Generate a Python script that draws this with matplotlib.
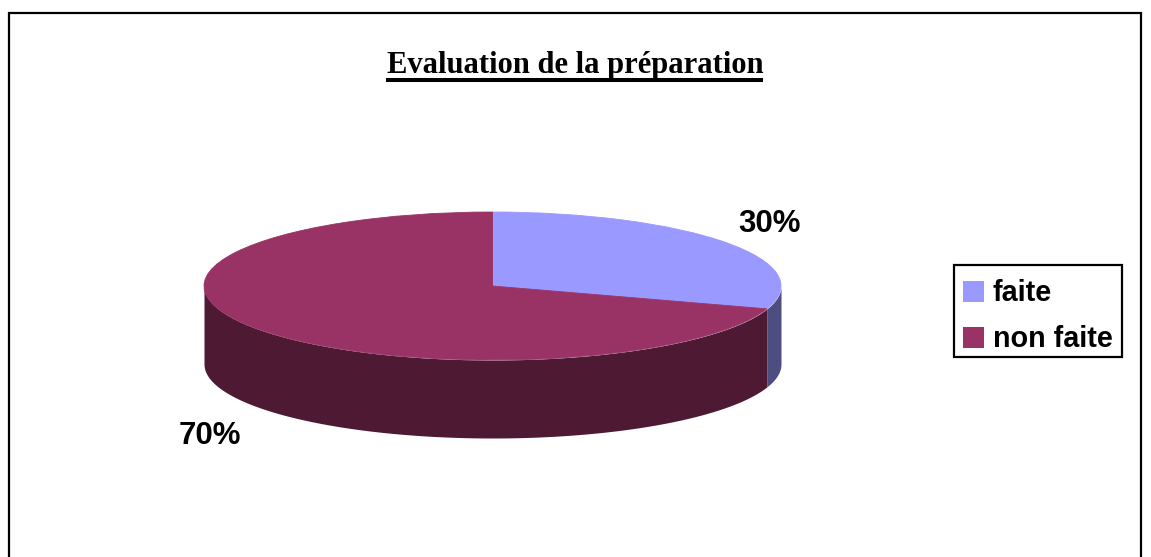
#!/usr/bin/env python

import numpy as np
import matplotlib.pyplot as plt
from matplotlib.patches import Rectangle

labels = ["faite", "non faite"]
values = [30, 70]
pct_labels = ["30%", "70%"]
colors = ["#9999FF", "#993366"]
side_colors = ["#4D4D80", "#4D1933"]

W, H = 1151, 557
fig = plt.figure(figsize=(W / 100, H / 100), dpi=100)

# full figure axes in pixel coordinates for the frame and the texts
bg = fig.add_axes([0, 0, 1, 1])
bg.set_xlim(0, W)
bg.set_ylim(H, 0)
bg.axis("off")

# chart frame, bottom edge is cut off by the image
bg.plot([9, 9, 1141, 1141], [H, 13, 13, H], color="black", lw=1.6, solid_joinstyle="miter")

bg.text(575, 65, "Evaluation de la préparation", family="Liberation Serif", weight="bold",
        fontsize=22, ha="center", va="center", color="black")
bg.plot([386, 763], [79.5, 79.5], color="black", lw=2.9, solid_capstyle="butt")

# pie axes: x -1..1 and y -1..1 squashed to an ellipse
px0, px1, py0, py1 = 204, 781, 212, 360
pie_ax = fig.add_axes([px0 / W, 1 - py1 / H, (px1 - px0) / W, (py1 - py0) / H])
pie_ax.patch.set_visible(False)

depth = 78 / ((py1 - py0) / 2)

# side of the cylinder: only the front half can be seen
start = 90.0
for v, c in zip(values, side_colors):
    end = start - v * 360 / sum(values)
    a0, a1 = max(start, -180), max(end, -180)
    a0, a1 = min(a0, 0), min(a1, 0)
    if a0 > a1:
        t = np.radians(np.linspace(a0, a1, 200))
        pie_ax.fill_between(np.cos(t), np.sin(t), np.sin(t) - depth, color=c, lw=0)
    start = end

wedges, _ = pie_ax.pie(values, colors=colors, startangle=90, counterclock=False, radius=1)
for w, c in zip(wedges, colors):
    w.set_edgecolor(c)
    w.set_linewidth(0.6)
pie_ax.set_aspect("auto")
pie_ax.set_xlim(-1, 1)
pie_ax.set_ylim(-1, 1)
pie_ax.axis("off")
for a in pie_ax.collections + pie_ax.patches:
    a.set_clip_on(False)

# percent labels
label_font = {"family": "Liberation Sans", "weight": "bold", "fontsize": 22.5, "color": "black"}
bg.text(770, 224, pct_labels[0], ha="center", va="center", **label_font)
bg.text(210, 436, pct_labels[1], ha="center", va="center", **label_font)

# legend
bg.add_patch(Rectangle((954, 265), 168, 92, fc="white", ec="black", lw=1.6))
for y, lab, c in zip([291.5, 337.5], labels, colors):
    bg.add_patch(Rectangle((963, y - 10.5), 21, 21, fc=c, ec="none"))
    bg.text(993, y + 1.5, lab, ha="left", va="center", family="Liberation Sans", weight="bold",
            fontsize=20.7, color="black")

fig.savefig("out.png", dpi=100)
plt.close(fig)
